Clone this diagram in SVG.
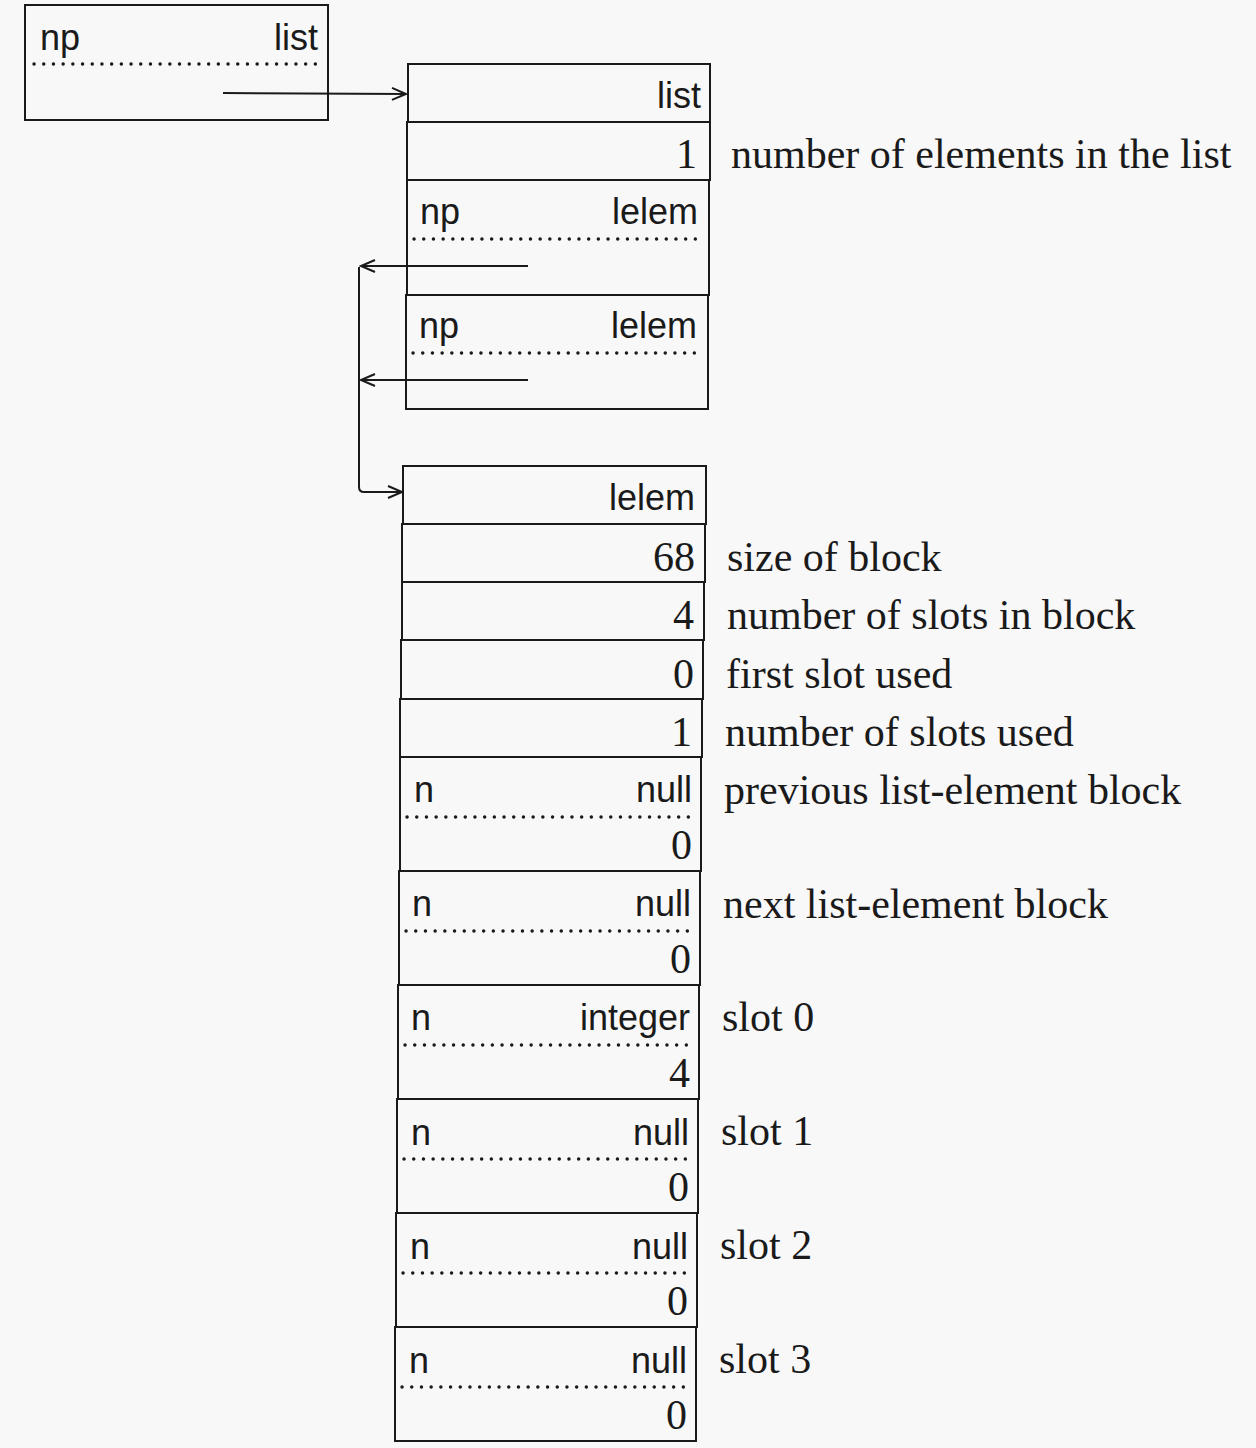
<svg xmlns="http://www.w3.org/2000/svg" width="1256" height="1448" viewBox="0 0 1256 1448">
<defs>
<style>
.box{fill:none;stroke:#1a1a1a;stroke-width:2}
.dot{stroke:#1a1a1a;stroke-width:3.4;stroke-dasharray:0.1 9.6;stroke-linecap:round}
.s{font-family:"Liberation Sans",Arial,sans-serif;font-size:36px;fill:#1a1a1a}
.r{text-anchor:end}
.t{font-family:"Liberation Serif","Times New Roman",serif;font-size:42px;fill:#1a1a1a}
.c{fill:none;stroke:#1a1a1a;stroke-width:2}
</style>
<marker id="ah" markerUnits="userSpaceOnUse" markerWidth="18" markerHeight="14" refX="16" refY="7" orient="auto">
<path d="M2,1 L16,7 L2,13" fill="none" stroke="#1a1a1a" stroke-width="2"/>
</marker>
</defs>
<rect width="1256" height="1448" fill="#f8f8f8"/>

<g id="np-list">
<rect class="box" x="25" y="5" width="303" height="115"/>
<text class="s" x="40" y="50">np</text>
<text class="s r" x="318" y="50">list</text>
<line class="dot" x1="34" y1="64" x2="321" y2="64"/>
</g>

<g id="list-block">
<rect class="box" x="408" y="64" width="302" height="58"/>
<text class="s r" x="701" y="108">list</text>
<rect class="box" x="407" y="122" width="303" height="58"/>
<text class="t r" x="697" y="168">1</text>
<text class="t" x="731" y="168">number of elements in the list</text>
<rect class="box" x="407" y="180" width="302" height="115"/>
<text class="s" x="420" y="224">np</text>
<text class="s r" x="698" y="224">lelem</text>
<line class="dot" x1="414" y1="239" x2="702" y2="239"/>
<rect class="box" x="406" y="295" width="302" height="114"/>
<text class="s" x="419" y="338">np</text>
<text class="s r" x="697" y="338">lelem</text>
<line class="dot" x1="413" y1="353" x2="701" y2="353"/>
</g>

<g id="lelem-block">
<rect class="box" x="403" y="466" width="303" height="58"/>
<text class="s r" x="695" y="510">lelem</text>
<rect class="box" x="402" y="524" width="303" height="58"/>
<text class="t r" x="695" y="571">68</text>
<text class="t" x="727" y="571">size of block</text>
<rect class="box" x="402" y="582" width="302" height="58"/>
<text class="t r" x="694" y="629">4</text>
<text class="t" x="727" y="629">number of slots in block</text>
<rect class="box" x="401" y="640" width="302" height="59"/>
<text class="t r" x="694" y="688">0</text>
<text class="t" x="726" y="688">first slot used</text>
<rect class="box" x="400" y="699" width="302" height="58"/>
<text class="t r" x="692" y="746">1</text>
<text class="t" x="725" y="746">number of slots used</text>

<rect class="box" x="400" y="757" width="301" height="114"/>
<text class="s" x="414" y="802">n</text>
<text class="s r" x="692" y="802">null</text>
<line class="dot" x1="407" y1="817" x2="696" y2="817"/>
<text class="t r" x="692" y="859">0</text>
<text class="t" x="724" y="804">previous list-element block</text>

<rect class="box" x="399" y="871" width="301" height="114"/>
<text class="s" x="412" y="916">n</text>
<text class="s r" x="691" y="916">null</text>
<line class="dot" x1="406" y1="931" x2="695" y2="931"/>
<text class="t r" x="691" y="973">0</text>
<text class="t" x="723" y="918">next list-element block</text>

<rect class="box" x="398" y="985" width="301" height="114"/>
<text class="s" x="411" y="1030">n</text>
<text class="s r" x="690" y="1030">integer</text>
<line class="dot" x1="405" y1="1045" x2="694" y2="1045"/>
<text class="t r" x="690" y="1087">4</text>
<text class="t" x="722" y="1031">slot 0</text>

<rect class="box" x="397" y="1099" width="301" height="114"/>
<text class="s" x="411" y="1145">n</text>
<text class="s r" x="689" y="1145">null</text>
<line class="dot" x1="404" y1="1159" x2="693" y2="1159"/>
<text class="t r" x="689" y="1201">0</text>
<text class="t" x="721" y="1145">slot 1</text>

<rect class="box" x="396" y="1213" width="301" height="114"/>
<text class="s" x="410" y="1259">n</text>
<text class="s r" x="688" y="1259">null</text>
<line class="dot" x1="403" y1="1273" x2="692" y2="1273"/>
<text class="t r" x="688" y="1315">0</text>
<text class="t" x="720" y="1259">slot 2</text>

<rect class="box" x="395" y="1327" width="301" height="114"/>
<text class="s" x="409" y="1373">n</text>
<text class="s r" x="687" y="1373">null</text>
<line class="dot" x1="402" y1="1387" x2="691" y2="1387"/>
<text class="t r" x="687" y="1429">0</text>
<text class="t" x="719" y="1373">slot 3</text>
</g>

<g id="connectors">
<path class="c" d="M223,93 L406,94" marker-end="url(#ah)"/>
<path class="c" d="M528,266 L361,266" marker-end="url(#ah)"/>
<path class="c" d="M528,380 L361,380" marker-end="url(#ah)"/>
<path class="c" d="M359,267 V487 Q359,492 364,492 H402" marker-end="url(#ah)"/>
</g>
</svg>
